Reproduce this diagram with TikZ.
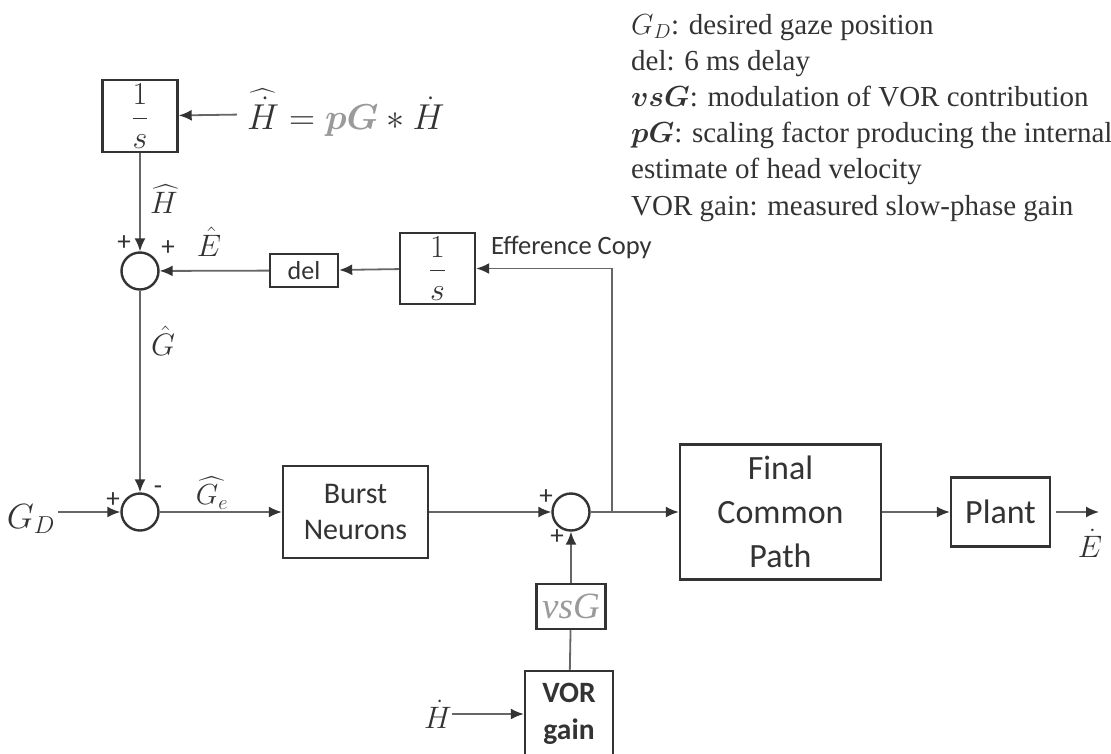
\RequirePackage{fix-cm}
\documentclass[tikz,border=0pt]{standalone}
\usepackage{amsmath,bm}
\usepackage{fontspec}
\setmainfont{Liberation Serif}
\setsansfont{Carlito}
\usepackage{tikz}
\usetikzlibrary{arrows.meta}
\definecolor{linegray}{HTML}{666666}
\definecolor{boxgray}{HTML}{333333}
\definecolor{softgray}{HTML}{9A9A9A}
\tikzset{
	block/.style={rectangle,draw=boxgray,line width=2.4pt,inner sep=0pt,align=center,text=boxgray,
		font=\sffamily\fontsize{30}{36}\selectfont},
	sum node/.style={circle,draw=boxgray,line width=2.4pt,minimum size=37pt,inner sep=0pt},
	sign/.style={inner sep=0pt,text=boxgray,font=\sffamily\fontsize{27}{27}\selectfont},
	sig/.style={inner sep=0pt,text=boxgray,font=\fontsize{31}{31}\selectfont},
	wire/.style={->,draw=linegray,line width=1.8pt},
	legend/.style={anchor=base west,inner sep=0pt,text=boxgray,font=\fontsize{29}{36}\selectfont}
}

\begin{document}
\begin{tikzpicture}[x=1pt,y=-1pt,>={Latex[length=13pt,width=11pt,color=boxgray]}]
	\useasboundingbox (0,0) rectangle (1111,753);
	% upper loop
	\node [block,minimum width=75pt,minimum height=72pt,font=\fontsize{32}{32}\selectfont] (int1) at (140,116) {$\dfrac{1}{s}$};
	\node [sig,anchor=west,font=\fontsize{36}{36}\selectfont] (eq) at (247,113)
		{$\widehat{\dot H} = {\color{softgray}\bm{pG}} * \dot H$};
	\node [sum node] (sum1) at (140,271) {};
	\node [block,minimum width=68pt,minimum height=33pt,font=\sffamily\fontsize{26}{26}\selectfont] (del) at (304,270.5) {del};
	\node [block,minimum width=75pt,minimum height=71pt,font=\fontsize{32}{32}\selectfont] (int2) at (437.5,268.5) {$\dfrac{1}{s}$};
	\node [sign,anchor=west,font=\sffamily\fontsize{26.5}{26.5}\selectfont] (effcopy) at (491,247) {Efference Copy};
	\node [sig] (Hhat) at (164,199) {$\widehat{H}$};
	\node [sig] (Ehat) at (209,242) {$\hat{E}$};
	\node [sig] (Ghat) at (163,341) {$\hat{G}$};
	\node [sign] (p1) at (124,243) {+};
	\node [sign] (p2) at (168,248) {+};
	% main path
	\node [sum node] (sum2) at (140,512) {};
	\node [sig,inner sep=3pt,font=\fontsize{35}{35}\selectfont] (GD) at (31,519) {$G_D$};
	\node [sign] (p3) at (113,500) {+};
	\node [sign] (m1) at (158,490) {-};
	\node [sig,font=\fontsize{29}{29}\selectfont] (Ge) at (212,493) {$\widehat{G_e}$};
	\node [block,minimum width=145pt,minimum height=92pt] (burst) at (355.5,512) {Burst\\Neurons};
	\node [sum node] (sum3) at (571,512) {};
	\node [sign] (p4) at (546,497) {+};
	\node [sign] (p5) at (557,537) {+};
	\coordinate (split) at (612,512);
	\node [block,minimum width=201pt,minimum height=135pt,font=\sffamily\fontsize{34}{44}\selectfont] (fcp) at (780.5,512) {Final\\Common\\Path};
	\node [block,minimum width=99pt,minimum height=69pt,font=\sffamily\fontsize{34}{34}\selectfont] (plant) at (1000.5,512) {Plant};
	\coordinate (out) at (1099,512);
	\node [sig] (Edot) at (1090,543) {$\dot E$};
	% VOR branch
	\node [block,minimum width=69pt,minimum height=45pt,text=softgray,font=\itshape\fontsize{37}{37}\selectfont] (vsg) at (571,606.5) {vsG};
	\node [block,minimum width=88pt,minimum height=86pt,font=\sffamily\bfseries\fontsize{29.5}{37}\selectfont] (vor) at (569,714) {VOR\\gain};
	\node [sig] (Hdot) at (438,714) {$\dot H$};
	% legend
	\foreach \txt [count=\i] in {{$G_D$: desired gaze position},{del: 6 ms delay},
		{$\bm{vsG}$: modulation of VOR contribution},{$\bm{pG}$: scaling factor producing the internal},
		{estimate of head velocity},{VOR gain: measured slow-phase gain}}
		\node [legend] (leg\i) at (631,{34+36.2*(\i-1)}) {\txt};
	% connectors
	\draw [wire,shorten <=10pt] (eq) -- (int1);
	\draw [wire] (int1) -- (sum1);
	\draw [wire] (int2) -- (del);
	\draw [wire] (del) -- (sum1);
	\draw [wire] (sum1) -- (sum2);
	\draw [wire] (GD.east |- sum2.west) -- (sum2.west);
	\draw [wire] (sum2) -- (burst);
	\draw [wire] (burst) -- (sum3);
	\draw [wire,-] (sum3) -- (split);
	\draw [wire] (split) -- (fcp);
	\draw [wire] (split) |- (int2);
	\draw [wire] (fcp) -- (plant);
	\draw [wire,shorten <=5pt] (plant) -- (out);
	\draw [wire] (vsg) -- (sum3);
	\draw [wire,-] (vor) -- (vsg);
	\draw [wire] (Hdot) -- (vor);
\end{tikzpicture}
\end{document}
